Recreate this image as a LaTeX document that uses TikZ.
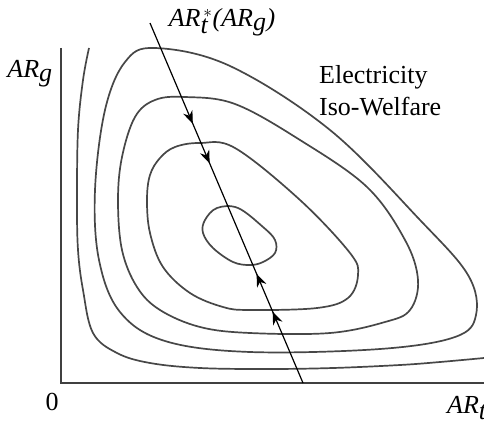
\documentclass[tikz,border=0pt]{standalone}
\usepackage{fontspec}
\setmainfont{Liberation Serif}
\usetikzlibrary{arrows.meta,decorations.markings}

\begin{document}
\begin{tikzpicture}[x=1pt,y=-1pt,>={Stealth[length=13pt,width=10pt]},
  iso/.style={draw=black!72,line width=1.7pt,line join=round},
  lbl/.style={font=\fontsize{26}{32}\selectfont,inner sep=0pt}]
\useasboundingbox (0,0) rectangle (484,420);
% axes
\coordinate (ytop) at (61,48);
\coordinate (O) at (61,383);
\coordinate (xend) at (484,383);
\draw[black!75,line width=1.6pt] (ytop) -- (O) -- (xend);
% iso-welfare contours
\draw[iso] plot[smooth,tension=.6] coordinates {(89,48) (83,80) (78,130) (77,200) (78,250) (83,290) (93,333) (117,353) (150,363) (200,368) (267,369) (333,368) (400,365) (440,362) (484,358)};
\draw[iso] plot[smooth cycle,tension=.6] coordinates {(155,48) (230,66) (330,130) (420,220) (468,275) (476,315) (455,337) (380,349) (250,352) (165,341) (120,312) (99,260) (95,190) (105,110) (125,62)};
\draw[iso] plot[smooth cycle,tension=.6] coordinates {(185,97) (235,104) (300,140) (367,187) (405,240) (418,280) (410,310) (385,322) (330,333) (250,333) (200,327) (160,310) (137,287) (122,250) (118,200) (122,157) (135,117) (155,100)};
\draw[iso] plot[smooth cycle,tension=.6] coordinates {(200,143) (235,148) (300,200) (350,253) (358,275) (348,298) (317,308) (250,310) (223,307) (190,293) (163,267) (150,233) (147,200) (150,175) (160,158) (175,147)};
\draw[iso] plot[smooth cycle,tension=.6] coordinates {(217,208) (238,208) (263,227) (275,240) (275,253) (263,262) (250,265) (233,262) (213,248) (203,233) (205,220)};
% reaction line
\coordinate (top) at (150,23);
\coordinate (bot) at (303,383);
\draw[line width=1.2pt,postaction={decorate},decoration={markings,
  mark=at position .28 with {\arrow{>}},
  mark=at position .39 with {\arrow{>}},
  mark=at position .73 with {\arrow{<}},
  mark=at position .835 with {\arrow{<}}}] (top) -- (bot);
% labels
\node[lbl] (lreact) at (222,22) {\textit{AR}$_{\textit{t}}^{\,*}$\textit{(AR}$_{\textit{g}}$\textit{)}};
\node[lbl] (lyax) at (30,74) {\textit{AR}$_{\textit{g}}$};
\node[lbl,anchor=west,align=left] (lelec) at (319,91) {Electricity\\Iso-Welfare};
\node[lbl] (lzero) at (52,402) {0};
\node[lbl,anchor=west] (lxax) at (447,408) {\textit{AR}$_{\textit{t}}$};
\end{tikzpicture}
\end{document}
